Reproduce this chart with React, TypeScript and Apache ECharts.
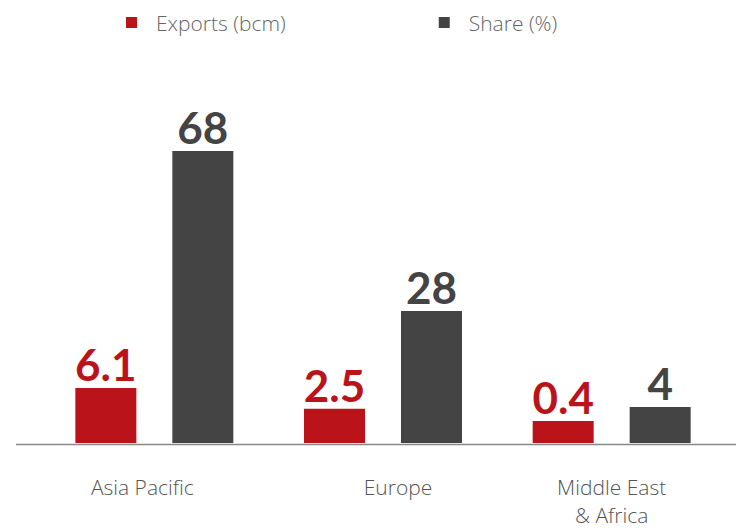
import React, { useEffect, useRef } from 'react';
import * as echarts from 'echarts';

const categories = ['Asia Pacific', 'Europe', 'Middle East\n& Africa'];
const seriesNames = ['Exports (bcm)', 'Share (%)'];
const exportsBcm = [6.1, 2.5, 0.4];
const sharePct = [68, 28, 4];

const RED = '#BA141A';
const DARK = '#444444';
const TEXT_FONT = 'Open Sans';

export default function App() {
  const ref = useRef<HTMLDivElement>(null);
  useEffect(() => {
    document.body.style.margin = '0';
    const chart = echarts.init(ref.current!, null, { renderer: 'svg' });
    const labelPad = [
      [0, 24, 0, 0],
      [0, 0, 0, 30],
      [0, 0, 0, 0],
    ];
    chart.setOption({
      animation: false,
      legend: {
        left: 121,
        top: 7,
        icon: 'rect',
        itemWidth: 11,
        itemHeight: 11,
        itemGap: 153,
        textStyle: {
          fontFamily: TEXT_FONT,
          fontWeight: 300,
          fontSize: 21,
          color: '#666',
          padding: [0, 0, 0, 14],
          width: 132,
        },
        data: seriesNames,
      },
      grid: { left: 40, right: 10, top: 60, bottom: 85, outerBoundsMode: 'none', containLabel: false },
      xAxis: {
        type: 'category',
        data: categories.map((c, i) => ({ value: c, textStyle: { padding: labelPad[i] } })),
        axisLine: { show: false },
        axisTick: { show: false },
        axisLabel: {
          fontFamily: TEXT_FONT,
          fontWeight: 300,
          fontSize: 21,
          color: '#555',
          lineHeight: 28,
          margin: 30,
          interval: 0,
        },
      },
      yAxis: [
        { type: 'value', min: -3.4, max: 62.75, startValue: -3.4, show: false },
        { type: 'value', min: -5, max: 90.75, startValue: -5, show: false },
      ],
      series: [
        {
          name: seriesNames[0],
          type: 'bar',
          yAxisIndex: 0,
          data: exportsBcm,
          barWidth: 61,
          barGap: '59%',
          itemStyle: { color: RED },
          label: {
            show: true,
            position: 'top',
            distance: 2,
            fontFamily: 'Lato',
            fontWeight: 'bold',
            fontSize: 44,
            color: RED,
          },
        },
        {
          name: seriesNames[1],
          type: 'bar',
          yAxisIndex: 1,
          data: sharePct,
          barWidth: 61,
          barGap: '59%',
          itemStyle: { color: DARK },
          label: {
            show: true,
            position: 'top',
            distance: 2,
            fontFamily: 'Lato',
            fontWeight: 'bold',
            fontSize: 44,
            color: DARK,
          },
        },
      ],
      graphic: [
        {
          type: 'line',
          shape: { x1: 16, y1: 444.5, x2: 736, y2: 444.5 },
          style: { stroke: '#888', lineWidth: 1.5 },
          z: 10,
        },
      ],
    });
    return () => chart.dispose();
  }, []);
  return <div ref={ref} style={{ width: 736, height: 528 }} />;
}
